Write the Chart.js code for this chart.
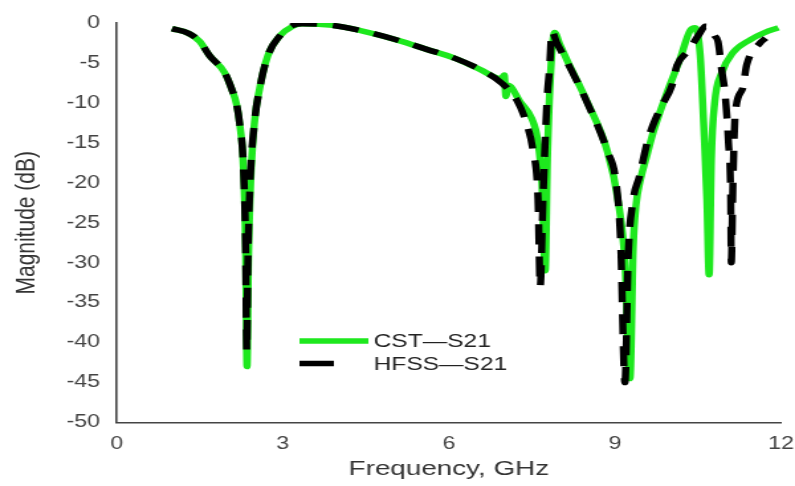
<!DOCTYPE html>
<html>
<head>
<meta charset="utf-8">
<script src="https://cdn.jsdelivr.net/npm/chart.js@4/dist/chart.umd.min.js"></script>
<style>
  html, body { margin: 0; padding: 0; background: #fff; overflow: hidden; }
  /* the source figure is stretched sideways, so draw narrow and widen */
  #wrap { width: 600px; height: 486px; transform: scaleX(1.325); transform-origin: 0 0; }
</style>
</head>
<body>
<div id="wrap"><canvas id="s21Chart"></canvas></div>
<script>
// ------------------------------
// data
// ------------------------------
const cstFreq = [1.0, 1.3, 1.5, 1.68, 1.95, 2.08, 2.17, 2.22, 2.29, 2.33, 2.355, 2.38, 2.42, 2.49, 2.58, 2.73, 2.95, 3.18, 3.35, 3.9, 4.5, 5.1, 5.6, 6.1, 6.56, 6.95, 7.0, 7.03, 7.07, 7.29, 7.5, 7.6, 7.68, 7.74, 7.78, 7.84, 7.91, 8.0, 8.13, 8.5, 8.86, 9.06, 9.18, 9.27, 9.33, 9.38, 9.46, 9.58, 9.69, 9.94, 10.17, 10.36, 10.45, 10.54, 10.6, 10.66, 10.7, 10.74, 10.8, 10.93, 11.13, 11.44, 11.7, 11.95];
const cstMag = [-0.7, -1.3, -2.3, -4.1, -6.2, -8.3, -10.3, -12.5, -18, -28, -43, -30, -20, -12.4, -8.3, -4.1, -1.6, -0.4, -0.1, -0.3, -1.1, -2.2, -3.3, -4.4, -5.8, -7.0, -6.5, -9.2, -7.8, -9.9, -12, -14.5, -20, -31, -17, -6, -1.2, -2.6, -4.6, -9.9, -16, -22.4, -30, -44.5, -28, -22.8, -19.6, -16.5, -13.7, -8.7, -4.6, -0.9, -0.6, -4.1, -12.4, -22, -31.5, -17, -10, -6.2, -3.7, -2.1, -1.2, -0.6];

const hfssFreq = [1.0, 1.3, 1.5, 1.68, 1.95, 2.08, 2.17, 2.22, 2.29, 2.33, 2.35, 2.37, 2.41, 2.49, 2.58, 2.73, 2.95, 3.18, 3.35, 3.9, 4.5, 5.1, 5.6, 6.1, 6.56, 6.95, 7.23, 7.4, 7.52, 7.61, 7.65, 7.7, 7.77, 7.82, 7.86, 7.95, 8.13, 8.5, 8.86, 9.02, 9.1, 9.18, 9.24, 9.32, 9.44, 9.6, 9.81, 10.03, 10.12, 10.32, 10.54, 10.63, 10.72, 10.8, 10.86, 10.93, 10.99, 11.05, 11.09, 11.1, 11.13, 11.17, 11.3, 11.38, 11.62, 11.72];
const hfssMag = [-0.7, -1.3, -2.3, -4.1, -6.2, -8.3, -10.3, -12.5, -18, -28, -41, -30, -20, -12.4, -8.3, -4.1, -1.6, -0.3, -0.1, -0.3, -1.1, -2.2, -3.3, -4.4, -5.8, -7.5, -9.7, -12.5, -16, -22, -33, -22, -10, -5.5, -1.1, -2.5, -4.8, -10, -16, -20, -27, -45, -29, -22.5, -19.2, -14.5, -10.8, -7.8, -5.3, -3.5, -1.2, -0.4, -0.6, -1.6, -2.3, -6, -9, -15, -22, -30, -20, -11.5, -8.3, -5.2, -2.5, -1.9];

const seriesNames = ["CST\u2014S21", "HFSS\u2014S21"];
const xTicks = [0, 3, 6, 9, 12];
const yTicks = [0, -5, -10, -15, -20, -25, -30, -35, -40, -45, -50];

const toPoints = (xs, ys) => xs.map((x, i) => ({ x: x, y: ys[i] }));

// ------------------------------
// legend drawn inside the plot
// ------------------------------
const insideLegend = {
  id: "insideLegend",
  afterDraw(chart, args, opts) {
    const ctx = chart.ctx;
    ctx.save();
    chart.data.datasets.forEach((ds, i) => {
      const y = opts.y + i * opts.rowGap;
      ctx.beginPath();
      ctx.strokeStyle = ds.borderColor;
      ctx.lineWidth = ds.borderWidth;
      ctx.lineCap = "butt";
      const len = ds.borderDash ? opts.dashLen : opts.lineLen;
      ctx.moveTo(opts.x, y);
      ctx.lineTo(opts.x + len, y);
      ctx.stroke();
      ctx.fillStyle = "#222";
      ctx.font = "18.5px 'Liberation Sans', Arial, sans-serif";
      ctx.textBaseline = "middle";
      ctx.textAlign = "left";
      ctx.fillText(ds.label, opts.textX, y + 1);
    });
    ctx.restore();
  }
};

const tickFont = { family: "'Liberation Sans', Arial, sans-serif", size: 17.5 };
const titleFont = { family: "'Liberation Sans', Arial, sans-serif", size: 21 };

new Chart(document.getElementById("s21Chart"), {
  type: "line",
  data: {
    datasets: [
      {
        label: seriesNames[0],
        data: toPoints(cstFreq, cstMag),
        borderColor: "#1ee81e",
        borderWidth: 5.5,
        pointRadius: 0,
        cubicInterpolationMode: "monotone",
        order: 2
      },
      {
        label: seriesNames[1],
        data: toPoints(hfssFreq, hfssMag),
        borderColor: "#000",
        borderWidth: 5.5,
        borderDash: [20, 12],
        pointRadius: 0,
        cubicInterpolationMode: "monotone",
        order: 1
      }
    ]
  },
  plugins: [insideLegend],
  options: {
    responsive: true,
    maintainAspectRatio: false,
    animation: false,
    layout: { padding: { top: 20, right: 10.5, bottom: 0, left: 0 } },
    plugins: {
      legend: { display: false },
      tooltip: { enabled: false },
      insideLegend: { x: 226, y: 341, rowGap: 22.5, lineLen: 52, dashLen: 26, textX: 282 }
    },
    scales: {
      x: {
        type: "linear",
        min: 0,
        max: 12,
        afterBuildTicks: s => { s.ticks = xTicks.map(v => ({ value: v })); },
        afterFit: s => { s.height = 63.5; s.paddingLeft = 0; s.paddingRight = 0; },
        ticks: { color: "#444", font: tickFont, padding: 11 },
        grid: { display: false, drawTicks: false },
        border: { display: true, color: "#444", width: 1.6 },
        title: {
          display: true,
          text: "Frequency, GHz",
          color: "#333",
          font: titleFont,
          padding: { top: 0, bottom: 4 }
        }
      },
      y: {
        min: -50,
        max: 0,
        afterBuildTicks: s => { s.ticks = yTicks.map(v => ({ value: v })); },
        afterFit: s => { s.width = 88; },
        ticks: { color: "#444", font: tickFont, padding: 12.5 },
        grid: { display: false, drawTicks: false },
        border: { display: true, color: "#444", width: 1.6 },
        title: {
          display: true,
          text: "Magnitude (dB)",
          color: "#333",
          font: titleFont,
          padding: { top: 8, bottom: 0 }
        }
      }
    }
  }
});
</script>
</body>
</html>
